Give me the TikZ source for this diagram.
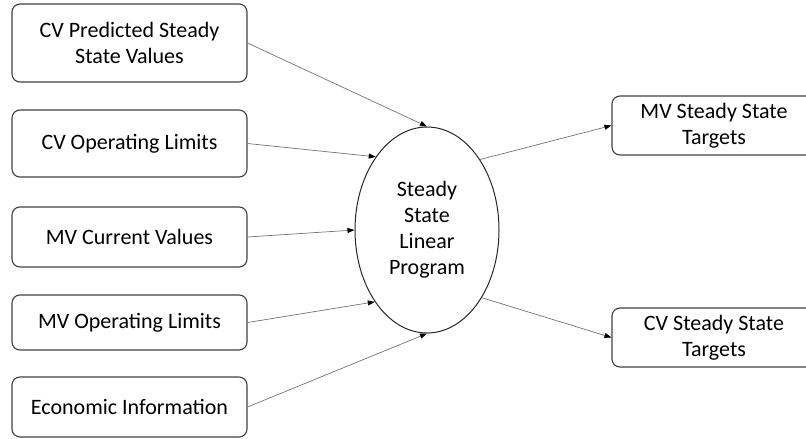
\documentclass[tikz,border=0pt]{standalone}
\usepackage{fontspec}
\setmainfont{Carlito}
\usetikzlibrary{shapes.geometric,arrows.meta}

\tikzset{
  inbox/.style={draw=black!75, line width=1.1pt, rounded corners=8pt, minimum width=235pt, align=center, inner sep=0pt},
  outbox/.style={draw=black!75, line width=1.1pt, rounded corners=8pt, minimum width=204pt, minimum height=59pt, align=center, inner sep=0pt},
  lpnode/.style={draw=black!85, line width=1pt, ellipse, minimum width=144pt, minimum height=206pt, inner sep=0pt, align=center},
  feed/.style={draw=black!55, line width=0.7pt, -{Triangle[length=7pt,width=5pt,color=black]}}
}

\begin{document}
\begin{tikzpicture}[x=1pt,y=-1pt,font=\fontsize{22}{26}\selectfont]
				\useasboundingbox (0,0) rectangle (806,439);
				
				% inputs on the left
				\node[inbox, minimum height=78pt] (pred) at (129.5,43) {CV Predicted Steady\\State Values};
				\node[inbox, minimum height=67pt] (cvlim) at (129.5,143.5) {CV Operating Limits};
				\node[inbox, minimum height=60pt] (mvcur) at (129.5,237) {MV Current Values};
				\node[inbox, minimum height=55pt] (mvlim) at (129.5,322.5) {MV Operating Limits};
				\node[inbox, minimum height=60pt] (econ) at (129.5,407) {Economic Information};
				
				% the LP in the middle
				\node[lpnode] (lp) at (427,230) {Steady\\State\\Linear\\Program};
				
				% outputs on the right
				\node[outbox] (mvtgt) at (714,125.5) {MV Steady State\\Targets};
				\node[outbox] (cvtgt) at (714,337.5) {CV Steady State\\Targets};
				
				\draw[feed] (pred.east) -- (lp.north);
				\draw[feed] (cvlim.east) -- (lp.125);
				\draw[feed] (mvcur.east) -- (lp.180);
				\draw[feed] (mvlim.east) -- (lp.-126);
				\draw[feed] (econ.east) -- (lp.south);
				
				\draw[feed] (lp.53) -- (mvtgt.west);
				\draw[feed] (lp.-51) -- (cvtgt.west);
				\end{tikzpicture}
\end{document}
